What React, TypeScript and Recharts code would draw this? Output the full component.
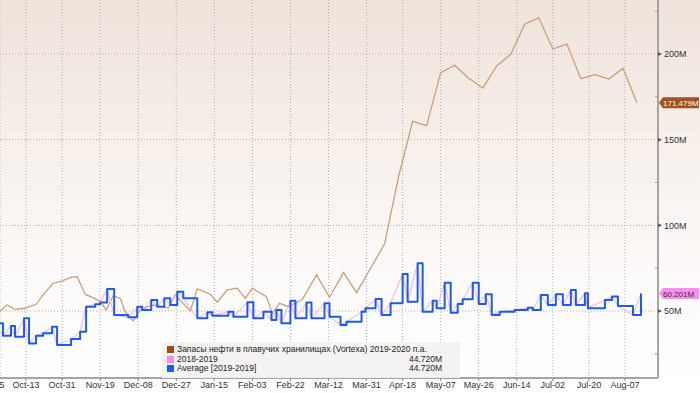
import { LineChart, Line, XAxis, YAxis, CartesianGrid, ReferenceLine, Legend } from 'recharts';

// x values are days counted from Oct-13-2019
const tickDays = [-18, 0, 18, 37, 56, 75, 94, 113, 132, 151, 170, 188, 207, 226, 245, 263, 281, 299];
const tickLabels = ['Sep-25', 'Oct-13', 'Oct-31', 'Nov-19', 'Dec-08', 'Dec-27', 'Jan-15', 'Feb-03', 'Feb-22', 'Mar-12',
  'Mar-31', 'Apr-18', 'May-07', 'May-26', 'Jun-14', 'Jul-02', 'Jul-20', 'Aug-07'];

const majorTicks = [50, 100, 150, 200];
const minorTicks = [25, 75, 125, 175, 225];

// Запасы нефти в плавучих хранилищах (Vortexa), млн баррелей
const storageDays = [-16, -9.5, -5.5, -0.5, 5, 8.5, 13.5, 18, 22, 25.5, 29.5, 37, 40, 43.5, 47, 49.5, 53.5, 57, 63, 71,
  74.5, 82, 85.5, 92, 95.5, 100.5, 105.5, 109.5, 113, 120, 123, 126.5, 131, 138, 145, 151.5, 158.5, 165, 179, 186,
  193, 200, 207, 214, 221, 228, 235, 242, 249, 256, 263, 270, 277, 284, 291, 298, 305];
const storageValues = [46.8, 53.5, 51.0, 51.6, 53.9, 59.4, 66.2, 67.5, 69.5, 70.1, 59.8, 55.8, 50.6, 58.9, 57.4, 49.6,
  44.2, 50.6, 53.5, 51.9, 59.4, 50.0, 62.9, 59.8, 55.1, 62.3, 63.3, 57.4, 63.3, 58.4, 48.6, 54.5, 52.5, 56.8, 71.1,
  58.0, 72.4, 60.7, 89.2, 128.5, 160.7, 158.2, 189.1, 193.4, 185.8, 180.1, 193.0, 199.8, 217.5, 221.1, 202.9, 205.8,
  185.6, 187.9, 185.4, 191.6, 171.479];

// 2018-2019 / Average [2019-2019]
const avgDays = [-16, -11.5, -7.5, -5.5, -1, 1.5, 5, 8.5, 13, 15.5, 22.5, 27, 30, 34.5, 37, 40.5, 44, 51, 55.5, 58,
  62.5, 65.5, 69, 72, 75.5, 78.5, 85.5, 90.5, 93, 101, 103.5, 110.5, 113.5, 118.5, 122.5, 125, 127.5, 132, 134.5, 140,
  142.5, 149, 151.5, 157, 160, 167.5, 169.5, 174.5, 177.5, 182, 188, 190.5, 195.5, 198, 203, 205, 209, 212, 215.5, 218,
  223, 226, 229.5, 232.5, 236.5, 244, 250.5, 253, 257, 260.5, 264.5, 268, 272, 274.5, 279, 280.5, 289, 292.5, 295.5,
  303, 307];
const avgValues = [42.8, 35.6, 41.2, 35.0, 45.7, 31.1, 35.6, 37.0, 40.8, 30.1, 33.6, 37.9, 52.5, 53.9, 54.9, 62.9, 47.7,
  46.3, 52.5, 50.6, 56.4, 52.5, 57.4, 53.5, 61.3, 57.4, 45.7, 49.2, 47.3, 49.6, 46.7, 55.1, 45.7, 49.6, 44.7, 50.6, 42.8,
  56.0, 45.7, 54.9, 45.7, 54.5, 46.7, 41.8, 43.7, 49.6, 51.6, 57.0, 47.7, 54.5, 71.6, 55.4, 77.9, 49.6, 56.0, 51.6, 66.5,
  49.0, 54.1, 56.8, 66.5, 54.1, 59.8, 47.7, 49.6, 50.6, 51.9, 50.6, 59.4, 53.5, 59.8, 53.5, 62.3, 53.5, 60.3, 51.6, 56.4,
  58.4, 52.9, 47.7, 60.201];

const legendRows = [
  { name: 'Запасы нефти в плавучих хранилищах (Vortexa) 2019-2020 п.а.', color: '#9a4b15', value: '' },
  { name: '2018-2019', color: '#f78cf0', value: '44.720M' },
  { name: 'Average [2019-2019]', color: '#1a5cf2', value: '44.720M' },
];

const lastStorage = storageValues[storageValues.length - 1];
const lastAvg = avgValues[avgValues.length - 1];

const storageData = storageDays.map((d, i) => ({ day: d, value: storageValues[i] }));
const avgData = avgDays.map((d, i) => ({ day: d, value: avgValues[i] }));

const FONT = '"Liberation Sans", Arial, sans-serif';

function YTick(props: any) {
  const { x, y, payload } = props;
  const v = payload.value;
  if (v === lastStorage || v === lastAvg) {
    const brown = v === lastStorage;
    return (
      <g>
        <path d={`M${x + 1},${y} L${x + 5},${y - 5.5} H${x + 41} V${y + 5.5} H${x + 5} Z`} fill={brown ? '#a2521c' : '#f590ee'} />
        <text x={x + 5} y={y} dy={3} fontSize={8} fontFamily={FONT} fill={brown ? '#fff' : '#333'}>
          {v.toFixed(3)}M
        </text>
      </g>
    );
  }
  if (majorTicks.includes(v)) {
    return (
      <g>
        <path d={`M${x},${y - 2} L${x + 4},${y} L${x},${y + 2} Z`} fill="#555" />
        <text x={x + 6} y={y} dy={3.2} fontSize={9} fontFamily={FONT} fill="#333">{v}M</text>
      </g>
    );
  }
  return <line x1={x - 3} x2={x} y1={y} y2={y} stroke="#999" />;
}

function renderLegend() {
  return (
    <div style={{ width: 298, height: 36, background: 'rgba(244,242,240,0.92)', fontFamily: FONT, fontSize: 8.5, color: '#222', paddingTop: 3, boxSizing: 'border-box' }}>
      {legendRows.map((r) => (
        <div key={r.name} style={{ display: 'flex', alignItems: 'center', height: 9.5, lineHeight: '9.5px', paddingLeft: 5, paddingRight: 18 }}>
          <span style={{ width: 7, height: 7, background: r.color, marginRight: 3, flex: 'none' }} />
          <span style={{ flex: 1, whiteSpace: 'nowrap' }}>{r.name}</span>
          <span>{r.value}</span>
        </div>
      ))}
    </div>
  );
}

export default function App() {
  return (
    <div style={{ position: 'absolute', left: 0, top: 0, width: 700, height: 393, background: 'linear-gradient(#efe3db 0%, #f8f2ee 45%, #fdfcfb 75%, #ffffff 100%)' }}>
      <LineChart width={700} height={393} margin={{ top: 0, right: 0, bottom: 0, left: 0 }}>
        <CartesianGrid horizontal={false} stroke="#b4b0ad" strokeDasharray="1 2" />
        {majorTicks.map((t) => (
          <ReferenceLine key={t} y={t} stroke="#b4b0ad" strokeDasharray="1 2" />
        ))}
        <XAxis
          dataKey="day"
          type="number"
          domain={[-13, 315.5]}
          allowDataOverflow
          ticks={tickDays}
          interval={0}
          tickFormatter={(d: number) => tickLabels[tickDays.indexOf(d)]}
          height={15}
          axisLine={{ stroke: '#a5a5a5', strokeWidth: 2 }}
          tickLine={{ stroke: '#888' }}
          tickSize={3}
          tickMargin={1}
          tick={{ fontSize: 9, fill: '#333', fontFamily: FONT }}
        />
        <YAxis
          orientation="right"
          type="number"
          domain={[10.9, 231.5]}
          allowDataOverflow
          ticks={[...minorTicks, ...majorTicks, lastStorage, lastAvg]}
          interval={0}
          width={42}
          axisLine={{ stroke: '#a5a5a5', strokeWidth: 2 }}
          tickLine={false}
          tickSize={0}
          tickMargin={0}
          tick={<YTick />}
        />
        <Legend content={renderLegend} layout="horizontal" verticalAlign="middle" align="center"
          wrapperStyle={{ position: 'absolute', left: 162, top: 342, width: 298, height: 36 }} />
        <Line data={storageData} dataKey="value" name={legendRows[0].name} stroke="#c8a17a" strokeWidth={1.3} dot={false} activeDot={false} isAnimationActive={false} />
        <Line data={avgData} dataKey="value" name={legendRows[1].name} stroke="#f7a6f0" strokeWidth={1} dot={false} activeDot={false} isAnimationActive={false} />
        <Line data={avgData} dataKey="value" name={legendRows[2].name} type="stepAfter" stroke="#1a5cf2" strokeWidth={2} strokeLinejoin="round" dot={false} activeDot={false} isAnimationActive={false} />
      </LineChart>
    </div>
  );
}
